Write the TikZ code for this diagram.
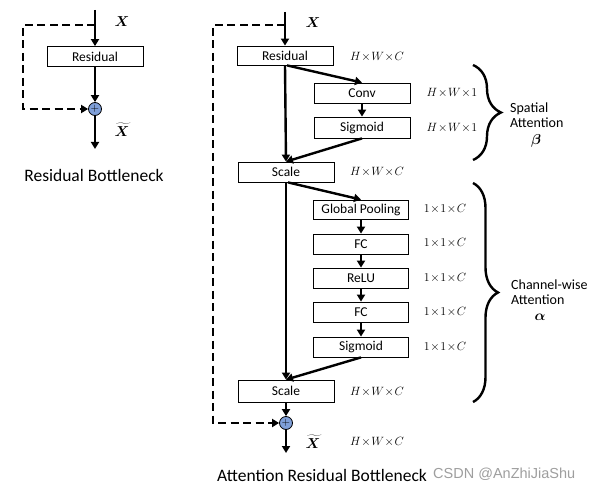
\documentclass[tikz,border=0pt]{standalone}
\usepackage{fontspec}
\setmainfont{Carlito}
\usepackage{bm}
\usetikzlibrary{arrows.meta,decorations.pathreplacing}
\definecolor{plusblue}{HTML}{7F9FD8}
\begin{document}
\begin{tikzpicture}[x=1pt,y=-1pt,
 box/.style={draw,line width=0.8pt,minimum width=96pt,minimum height=20pt,inner sep=0pt,font=\fontsize{13.5}{15}\selectfont},
 arr/.style={line width=2.4pt,-{Triangle[length=7pt,width=8pt]}},
 dashln/.style={line width=2.4pt,dash pattern=on 8pt off 4.5pt,-{Triangle[length=7pt,width=8pt]}},
 plus/.style={circle,draw,line width=0.8pt,fill=plusblue,minimum size=13pt,inner sep=0pt,font=\fontsize{11}{11}\selectfont},
 dim/.style={font=\fontsize{12.8}{15}\selectfont,inner sep=1pt},
 xl/.style={font=\fontsize{14}{15}\selectfont,inner sep=1pt},
 ann/.style={font=\fontsize{14}{16}\selectfont,align=left,anchor=west,inner sep=0pt},
 big/.style={font=\fontsize{17.5}{20}\selectfont,inner sep=0pt},
 brc/.style={line width=2.4pt,decorate,decoration={brace,amplitude=#1}},
 ]
\useasboundingbox (0,0) rectangle (596,489);

% ---------- left: Residual Bottleneck ----------
\coordinate (lt) at (95,10);
\coordinate (ld) at (95,25);
\node[box] (res1) at (95,56.5) {Residual};
\node[plus] (p1) at (95,109) {$+$};
\coordinate (lo) at (95,149);
\draw[arr] (lt) -- (res1);
\draw[arr] (res1) -- (p1);
\draw[arr] (p1) -- (lo);
\draw[dashln] (ld) -- ++(-72,0) |- (p1);
\node[xl] (lx) at (122,22) {$\bm{X}$};
\node[xl] (lxt) at (122,130) {$\widetilde{\bm{X}}$};
\node[big] (lcap) at (94,175) {Residual Bottleneck};

% ---------- right: Attention Residual Bottleneck ----------
\coordinate (rt) at (285,12);
\coordinate (rd) at (285,25);
\node[box,minimum height=19pt] (res2) at (285,55.5) {Residual};
\node[box] (conv) at (362,93) {Conv};
\node[box,minimum height=21pt] (sig1) at (362,127.5) {Sigmoid};
\node[box] (sc1) at (286,172) {Scale};
\node[box,minimum width=95pt,minimum height=19pt] (gp) at (361,209.5) {Global Pooling};
\node[box,minimum width=95pt] (fc1) at (361,244) {FC};
\node[box,minimum width=95pt] (relu) at (361,278) {ReLU};
\node[box,minimum width=95pt] (fc2) at (361,312) {FC};
\node[box,minimum width=95pt] (sig2) at (361,347) {Sigmoid};
\node[box,minimum height=22pt] (sc2) at (286,391) {Scale};
\node[plus] (p2) at (286,423) {$+$};
\coordinate (ro) at (286,453);

\draw[arr] (rt) -- (res2);
\draw[arr] (res2.south) -- (sc1.north);
\draw[arr] ([xshift=2pt]res2.south) -- (conv.north);
\draw[arr] (conv) -- (sig1);
\draw[arr] (sig1.south) -- (sc1.north);
\draw[arr] (sc1.south) -- (sc2.north);
\draw[arr] ([xshift=2pt]sc1.south) -- (gp.north);
\draw[arr] (gp) -- (fc1);
\draw[arr] (fc1) -- (relu);
\draw[arr] (relu) -- (fc2);
\draw[arr] (fc2) -- (sig2);
\draw[arr] (sig2.south) -- (sc2.north);
\draw[arr] (sc2) -- (p2);
\draw[arr] (p2) -- (ro);
\draw[dashln] (rd) -- ++(-72,0) |- (p2);

\node[xl] (rx) at (313,23) {$\bm{X}$};
\node[xl] (rxt) at (313,442) {$\widetilde{\bm{X}}$};
\node[dim] (d1) at (377,57) {$H\!\times\! W\!\times\! C$};
\node[dim] (d2) at (377,172) {$H\!\times\! W\!\times\! C$};
\node[dim] (d3) at (377,392) {$H\!\times\! W\!\times\! C$};
\node[dim] (d4) at (377,442) {$H\!\times\! W\!\times\! C$};
\node[dim] (d5) at (452,93) {$H\!\times\! W\!\times\! 1$};
\node[dim] (d6) at (452,128) {$H\!\times\! W\!\times\! 1$};
\node[dim] (e1) at (445,209) {$1\!\times\! 1\!\times\! C$};
\node[dim] (e2) at (445,243) {$1\!\times\! 1\!\times\! C$};
\node[dim] (e3) at (445,278) {$1\!\times\! 1\!\times\! C$};
\node[dim] (e4) at (445,312) {$1\!\times\! 1\!\times\! C$};
\node[dim] (e5) at (445,347) {$1\!\times\! 1\!\times\! C$};

\draw[brc=28pt] (473,65) -- (473,160);
\draw[brc=25pt] (473,183) -- (473,402);
\node[ann] (sa) at (510,115) {Spatial\\[-1pt]Attention};
\node[dim,font=\fontsize{15}{16}\selectfont] (beta) at (536,141) {$\bm{\beta}$};
\node[ann] (ca) at (511,292) {Channel-wise\\[-1pt]Attention};
\node[dim,font=\fontsize{15}{16}\selectfont] (alpha) at (540,317) {$\bm{\alpha}$};

\node[big,anchor=west] (rcap) at (217,475) {Attention Residual Bottleneck};
\node[anchor=west,inner sep=0pt,text=black!38,font={\fontspec{Liberation Sans}\fontsize{14.5}{16}\selectfont}] (wm) at (433,474) {CSDN @AnZhiJiaShu};
\end{tikzpicture}
\end{document}
